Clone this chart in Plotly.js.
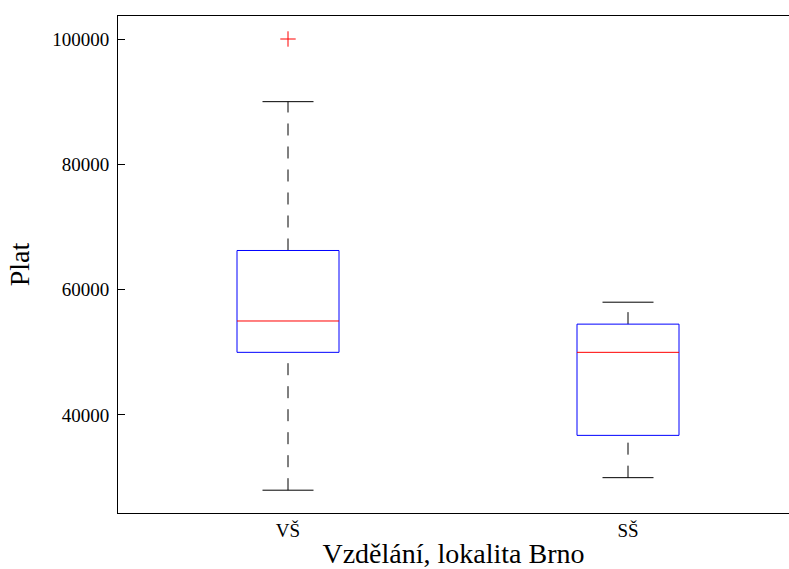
<!DOCTYPE html>
<html>
<head>
<meta charset="utf-8">
<script src="https://cdn.plot.ly/plotly-3.0.1.min.js"></script>
<style>html,body{margin:0;padding:0;overflow:hidden;background:#fff;}</style>
</head>
<body>
<div id="chart" style="width:789px;height:569px;"></div>
<script>
// Data
const categories = ['VŠ', 'SŠ'];
const lowerWhisker = [28000, 30000];
const q1 = [50000, 36750];
const median = [55000, 50000];
const q3 = [66250, 54500];
const upperWhisker = [90000, 58000];
const outliers = [[100000], []];
const yTicks = [40000, 60000, 80000, 100000];

const boxWidth = 0.3;
const capWidth = 0.15;
const font = '"Liberation Serif", "DejaVu Serif", serif';

const traces = [];
categories.forEach((c, i) => {
  const p = i + 1;
  const l = p - boxWidth / 2, r = p + boxWidth / 2;
  // upper whisker (from box to cap)
  traces.push({x: [p, p], y: [q3[i], upperWhisker[i]], mode: 'lines',
    line: {color: '#000', width: 1, dash: '12px,11px'}});
  // lower whisker (from cap to box)
  traces.push({x: [p, p], y: [lowerWhisker[i], q1[i]], mode: 'lines',
    line: {color: '#000', width: 1, dash: '12px,11px'}});
  // caps
  traces.push({x: [p - capWidth / 2, p + capWidth / 2], y: [upperWhisker[i], upperWhisker[i]], mode: 'lines',
    line: {color: '#000', width: 1}});
  traces.push({x: [p - capWidth / 2, p + capWidth / 2], y: [lowerWhisker[i], lowerWhisker[i]], mode: 'lines',
    line: {color: '#000', width: 1}});
  // box
  traces.push({x: [l, r, r, l, l], y: [q1[i], q1[i], q3[i], q3[i], q1[i]], mode: 'lines',
    line: {color: '#0000ff', width: 1}});
  // median
  traces.push({x: [l, r], y: [median[i], median[i]], mode: 'lines',
    line: {color: '#ff0000', width: 1}});
  // outliers
  if (outliers[i].length) {
    traces.push({x: outliers[i].map(() => p), y: outliers[i], mode: 'markers',
      marker: {symbol: 'cross-thin', size: 11, line: {color: '#ff0000', width: 1}, color: '#ff0000'}});
  }
});

const layout = {
  width: 789, height: 569,
  margin: {l: 118, r: 0, t: 16, b: 56},
  paper_bgcolor: '#fff', plot_bgcolor: '#fff',
  showlegend: false,
  hovermode: false,
  font: {family: font, color: '#000', size: 19},
  xaxis: {
    range: [0.5, 2.4735],
    tickvals: [1, 2], ticktext: categories,
    ticks: '', showgrid: false, zeroline: false,
    showline: true, linecolor: '#000', linewidth: 1, mirror: true,
    tickfont: {family: font, size: 19},
    title: {text: 'Vzdělání, lokalita Brno', font: {family: font, size: 28}, standoff: 4}
  },
  yaxis: {
    range: [24360, 103670],
    tickvals: yTicks, ticktext: yTicks.map(String),
    ticks: 'inside', ticklen: 7, tickcolor: '#000', tickwidth: 1,
    showgrid: false, zeroline: false,
    showline: true, linecolor: '#000', linewidth: 1, mirror: false,
    tickfont: {family: font, size: 19},
    ticklabelstandoff: 4,
    title: {text: 'Plat', font: {family: font, size: 28}, standoff: 14}
  }
};

Plotly.newPlot('chart', traces, layout, {staticPlot: true, displayModeBar: false});
</script>
</body>
</html>
